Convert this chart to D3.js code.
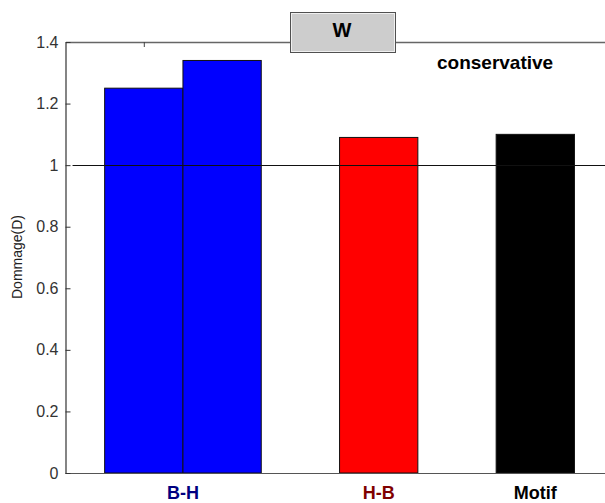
<!DOCTYPE html>
<html>
<head>
<meta charset="utf-8">
<script src="https://cdn.jsdelivr.net/npm/d3@7"></script>
<style>
  html, body { margin: 0; padding: 0; background: #fff; }
  svg { display: block; }
  text { font-family: "Liberation Sans", Arial, Helvetica, sans-serif; }
</style>
</head>
<body>
<svg id="chart" width="605" height="503"></svg>
<script>
// ---- data ----
const categories = ["B-H", "H-B", "Motif"];
const categoryPositions = [1.5, 4, 6];
const barPositions = [1, 2, 4, 6];
const barValues = [1.25, 1.34, 1.09, 1.10];
const yTickValues = [0, 0.2, 0.4, 0.6, 0.8, 1.0, 1.2, 1.4];
const yTickLabels = ["0", "0.2", "0.4", "0.6", "0.8", "1", "1.2", "1.4"];
const topTickValues = [1];
const referenceValue = 1;
const titleText = "W";
const annotationText = "conservative";
const yAxisTitle = "Dommage(D)";

// ---- styles ----
const barColors = ["#0000ff", "#0000ff", "#ff0000", "#000000"];
const labelColors = ["#000080", "#800000", "#000000"];

const svg = d3.select("#chart");
const x = d3.scaleLinear().domain([0, 7]).range([65.5, 613.6]);
const y = d3.scaleLinear().domain([0, 1.4]).range([473, 42]);
const unit = x(1) - x(0);

// bars
svg.append("g").selectAll("rect")
  .data(barValues)
  .join("rect")
  .attr("x", (d, i) => x(barPositions[i] - 0.5))
  .attr("width", unit)
  .attr("y", d => y(d))
  .attr("height", d => y(0) - y(d))
  .attr("fill", (d, i) => barColors[i])
  .attr("stroke", "#111")
  .attr("stroke-width", 1);

// reference line
svg.append("line")
  .attr("x1", x(0.09)).attr("x2", x(7))
  .attr("y1", Math.round(y(referenceValue)) + 0.5)
  .attr("y2", Math.round(y(referenceValue)) + 0.5)
  .attr("stroke", "#111").attr("stroke-width", 1);

// bottom axis line
svg.append("line")
  .attr("x1", x(0)).attr("x2", x(7))
  .attr("y1", y(0) + 0.5).attr("y2", y(0) + 0.5)
  .attr("stroke", "#555").attr("stroke-width", 1.2);

// top axis
const topAxis = d3.axisTop(x).tickValues(topTickValues).tickSizeInner(-5).tickSizeOuter(0).tickFormat("");
const gTop = svg.append("g").attr("transform", `translate(0,${y(1.4)})`).call(topAxis);
gTop.select(".domain").attr("stroke", "#666").attr("stroke-width", 1.5);
gTop.selectAll(".tick line").attr("stroke", "#444");

// left axis
const leftAxis = d3.axisLeft(y)
  .tickValues(yTickValues)
  .tickFormat((d, i) => yTickLabels[i])
  .tickSizeInner(-5).tickSizeOuter(0).tickPadding(7);
const gLeft = svg.append("g").attr("transform", `translate(${x(0)},0)`).call(leftAxis);
gLeft.select(".domain").attr("stroke", "#333").attr("stroke-width", 1.2);
gLeft.selectAll(".tick line").attr("stroke", "#333");
gLeft.selectAll(".tick text")
  .attr("font-size", 16)
  .attr("fill", "#333")
  .style("font-family", "'Liberation Sans', Arial, sans-serif");

// y axis title
svg.append("text")
  .attr("transform", `translate(22,257) rotate(-90)`)
  .attr("text-anchor", "middle")
  .attr("font-size", 14)
  .attr("fill", "#222")
  .text(yAxisTitle);

// category labels
svg.append("g").selectAll("text")
  .data(categories)
  .join("text")
  .attr("x", (d, i) => x(categoryPositions[i]))
  .attr("y", 499)
  .attr("text-anchor", "middle")
  .attr("font-size", 18)
  .attr("font-weight", "bold")
  .attr("fill", (d, i) => labelColors[i])
  .text(d => d);

// title box
const tb = svg.append("g");
tb.append("rect")
  .attr("x", 290.5).attr("y", 12.5).attr("width", 105).attr("height", 40)
  .attr("fill", "#cdcdcd").attr("stroke", "#505050").attr("stroke-width", 1);
tb.append("rect")
  .attr("x", 291.5).attr("y", 13.5).attr("width", 103).attr("height", 38)
  .attr("fill", "none").attr("stroke", "#f0f0f0").attr("stroke-width", 1);
tb.append("text")
  .attr("x", 342).attr("y", 37)
  .attr("text-anchor", "middle")
  .attr("font-size", 20).attr("font-weight", "bold")
  .attr("fill", "#000")
  .text(titleText);

// annotation
svg.append("text")
  .attr("x", 437).attr("y", 69)
  .attr("font-size", 19).attr("font-weight", "bold")
  .attr("fill", "#000")
  .text(annotationText);
</script>
</body>
</html>
